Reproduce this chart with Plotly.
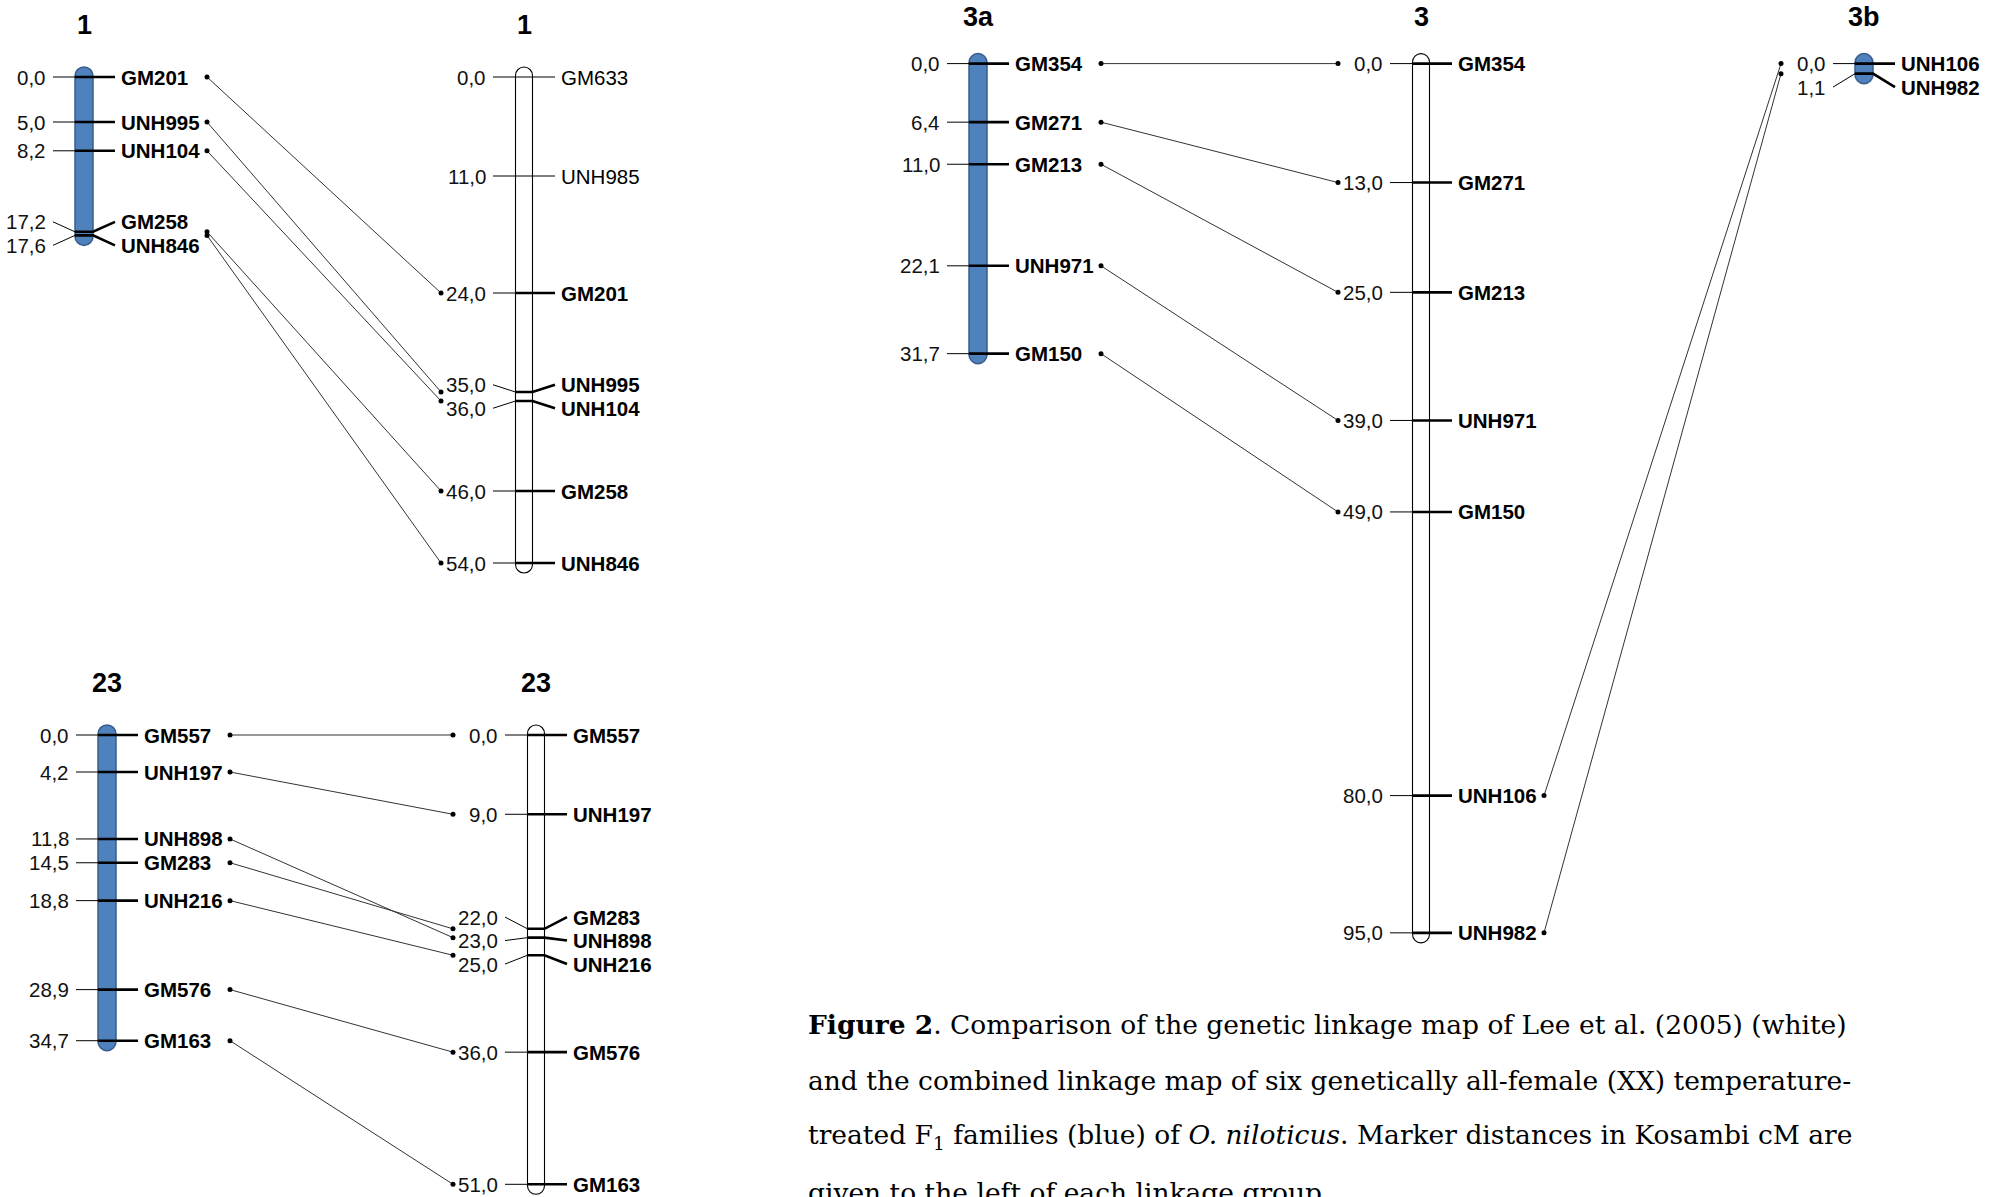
import plotly.graph_objects as go

W, H = 1995, 1197

# ---------------- data (Kosambi cM) ----------------
lg1_blue_markers = ["GM201", "UNH995", "UNH104", "GM258", "UNH846"]
lg1_blue_cm = [0.0, 5.0, 8.2, 17.2, 17.6]
lg1_white_markers = ["GM633", "UNH985", "GM201", "UNH995", "UNH104", "GM258", "UNH846"]
lg1_white_cm = [0.0, 11.0, 24.0, 35.0, 36.0, 46.0, 54.0]

lg23_blue_markers = ["GM557", "UNH197", "UNH898", "GM283", "UNH216", "GM576", "GM163"]
lg23_blue_cm = [0.0, 4.2, 11.8, 14.5, 18.8, 28.9, 34.7]
lg23_white_markers = ["GM557", "UNH197", "GM283", "UNH898", "UNH216", "GM576", "GM163"]
lg23_white_cm = [0.0, 9.0, 22.0, 23.0, 25.0, 36.0, 51.0]

lg3a_markers = ["GM354", "GM271", "GM213", "UNH971", "GM150"]
lg3a_cm = [0.0, 6.4, 11.0, 22.1, 31.7]
lg3_white_markers = ["GM354", "GM271", "GM213", "UNH971", "GM150", "UNH106", "UNH982"]
lg3_white_cm = [0.0, 13.0, 25.0, 39.0, 49.0, 80.0, 95.0]
lg3b_markers = ["UNH106", "UNH982"]
lg3b_cm = [0.0, 1.1]

caption_lines = [
    "<b>Figure 2</b>. Comparison of the genetic linkage map of Lee et al. (2005) (white)",
    "and the combined linkage map of six genetically all-female (XX) temperature-",
    "treated F<sub>1</sub> families (blue) of <i>O. niloticus</i>. Marker distances in Kosambi cM are",
    "given to the left of each linkage group.",
]

# ---------------- layout (style) ----------------
# each panel has its own cM y-axis: screen pixel of 0 cM and pixels per cM
panels = {
    "y": dict(y0=77.0, s=9.0),
    "y2": dict(y0=735.0, s=8.81),
    "y3": dict(y0=63.6, s=9.15),
}
chroms = [
    dict(title="1", names=lg1_blue_markers, cm=lg1_blue_cm, kind="blue", cx=84, ax="y"),
    dict(title="1", names=lg1_white_markers, cm=lg1_white_cm, kind="white", cx=524, ax="y"),
    dict(title="23", names=lg23_blue_markers, cm=lg23_blue_cm, kind="blue", cx=107, ax="y2"),
    dict(title="23", names=lg23_white_markers, cm=lg23_white_cm, kind="white", cx=536, ax="y2"),
    dict(title="3a", names=lg3a_markers, cm=lg3a_cm, kind="blue", cx=978, ax="y3"),
    dict(title="3", names=lg3_white_markers, cm=lg3_white_cm, kind="white", cx=1421, ax="y3"),
    dict(title="3b", names=lg3b_markers, cm=lg3b_cm, kind="blue", cx=1864, ax="y3"),
]
links = [(0, 1), (2, 3), (4, 5), (5, 6)]

BLUE_FILL, BLUE_LINE = "#4F81BD", "#385D8A"
FONT = "Liberation Sans, Arial, sans-serif"
FS = 20.5
TITLE_FS = 27
LABEL_GAP_PX = 23.5
CM_RIGHT = 36      # cM label right edge, left of centre
NAME_LEFT = 35     # marker name start, right of centre
DOT_RIGHT = 123
DOT_LEFT = 83
EXT_PX = 10


def spread(vals, gap):
    clusters = [[i] for i in range(len(vals))]
    pos = list(vals)
    changed = True
    while changed:
        changed = False
        for k in range(len(clusters) - 1):
            a, b = clusters[k], clusters[k + 1]
            if pos[b[0]] - pos[a[-1]] < gap - 1e-9:
                merged = a + b
                m = sum(vals[i] for i in merged) / len(merged)
                for j, i in enumerate(merged):
                    pos[i] = m - (len(merged) - 1) / 2 * gap + j * gap
                clusters[k:k + 2] = [merged]
                changed = True
                break
    if pos and pos[0] < vals[0]:
        pos[0] = vals[0]
    for i in range(1, len(pos)):
        pos[i] = max(pos[i], pos[i - 1] + gap)
    return pos


def capsule(cx, top, bot, r, s):
    ry = r / s
    k = 0.5523
    return (f"M {cx-r},{top+ry} C {cx-r},{top+ry-k*ry} {cx-k*r},{top} {cx},{top} "
            f"C {cx+k*r},{top} {cx+r},{top+ry-k*ry} {cx+r},{top+ry} "
            f"L {cx+r},{bot-ry} C {cx+r},{bot-ry+k*ry} {cx+k*r},{bot} {cx},{bot} "
            f"C {cx-k*r},{bot} {cx-r},{bot-ry+k*ry} {cx-r},{bot-ry} Z")


shared = [set() for _ in chroms]
for a, b in links:
    common = set(chroms[a]["names"]) & set(chroms[b]["names"])
    shared[a] |= common
    shared[b] |= common

fig = go.Figure()
shapes, annos = [], []
lines = {ax: dict(thin=([], []), thick=([], []), conn=([], []), dots=([], [])) for ax in panels}

for ci, c in enumerate(chroms):
    ax = c["ax"]
    s = panels[ax]["s"]
    y0 = panels[ax]["y0"]
    cx = c["cx"]
    w = 18 if c["kind"] == "blue" else 17
    r = w / 2
    top = min(c["cm"]) - EXT_PX / s
    bot = max(c["cm"]) + EXT_PX / s
    shapes.append(dict(
        type="path", xref="x", yref=ax, layer="below",
        path=capsule(cx, top, bot, r, s),
        fillcolor=BLUE_FILL if c["kind"] == "blue" else "white",
        line=dict(color=BLUE_LINE if c["kind"] == "blue" else "black",
                  width=1.5 if c["kind"] == "blue" else 1.1),
    ))
    title_px = max(y0 - 52, 17)
    annos.append(dict(x=cx, y=(title_px - y0) / s, xref="x", yref=ax,
                      text=f"<b>{c['title']}</b>", showarrow=False,
                      font=dict(family=FONT, size=TITLE_FS, color="black"),
                      xanchor="center", yanchor="middle"))
    lab = spread(c["cm"], LABEL_GAP_PX / s)
    for name, v, lv in zip(c["names"], c["cm"], lab):
        is_sh = name in shared[ci]
        tx, ty = lines[ax]["thin"]
        tx += [cx - CM_RIGHT + 5, cx - r, None]
        ty += [lv, v, None]
        key = "thick" if is_sh else "thin"
        kx, ky = lines[ax][key]
        kx += [cx - r, cx + r, cx + NAME_LEFT - 4, None]
        ky += [v, v, lv, None]
        annos.append(dict(x=cx - CM_RIGHT, y=lv, xref="x", yref=ax,
                          text=f"{v:.1f}".replace(".", ","), showarrow=False,
                          font=dict(family=FONT, size=FS, color="#111"),
                          xanchor="right", yanchor="middle"))
        annos.append(dict(x=cx + NAME_LEFT, y=lv, xref="x", yref=ax,
                          text=f"<b>{name}</b>" if is_sh else name, showarrow=False,
                          font=dict(family=FONT, size=FS, color="black"),
                          xanchor="left", yanchor="middle"))

for a, b in links:
    ca, cb = chroms[a], chroms[b]
    ax = ca["ax"]
    for name in ca["names"]:
        if name in cb["names"]:
            ya = ca["cm"][ca["names"].index(name)]
            yb = cb["cm"][cb["names"].index(name)]
            xa = ca["cx"] + DOT_RIGHT
            xb = cb["cx"] - DOT_LEFT
            cxs, cys = lines[ax]["conn"]
            cxs += [xa, xb, None]
            cys += [ya, yb, None]
            dx, dy = lines[ax]["dots"]
            dx += [xa, xb]
            dy += [ya, yb]

for ax, d in lines.items():
    fig.add_trace(go.Scatter(x=d["conn"][0], y=d["conn"][1], yaxis=ax, mode="lines",
                             line=dict(color="#333333", width=1), hoverinfo="skip"))
    fig.add_trace(go.Scatter(x=d["thin"][0], y=d["thin"][1], yaxis=ax, mode="lines",
                             line=dict(color="black", width=1), hoverinfo="skip"))
    fig.add_trace(go.Scatter(x=d["thick"][0], y=d["thick"][1], yaxis=ax, mode="lines",
                             line=dict(color="black", width=2.6), hoverinfo="skip"))
    fig.add_trace(go.Scatter(x=d["dots"][0], y=d["dots"][1], yaxis=ax, mode="markers",
                             marker=dict(color="black", size=5), hoverinfo="skip"))

cap_y = [1024, 1080, 1136, 1192]
for txt, yy in zip(caption_lines, cap_y):
    annos.append(dict(x=806 / W, y=1 - yy / H, xref="paper", yref="paper",
                      text=txt, showarrow=False, xanchor="left", yanchor="middle",
                      font=dict(family="DejaVu Serif, serif", size=26.5, color="black")))

layout_axes = {}
for ax, p in panels.items():
    name = "yaxis" if ax == "y" else "yaxis" + ax[1:]
    y0 = p["y0"]
    cfg = dict(range=[(H - y0) / p["s"], -y0 / p["s"]], autorange=False,
               visible=False, domain=[0, 1], anchor="x", fixedrange=True)
    if ax != "y":
        cfg["overlaying"] = "y"
    layout_axes[name] = cfg

fig.update_layout(
    width=W, height=H, margin=dict(l=0, r=0, t=0, b=0),
    paper_bgcolor="white", plot_bgcolor="white", showlegend=False,
    xaxis=dict(range=[0, W], visible=False, fixedrange=True, domain=[0, 1]),
    shapes=shapes, annotations=annos, **layout_axes,
)
fig.write_html(
    "out.html",
    config={"displayModeBar": False},
    post_script="document.body.style.margin='0px';document.body.style.overflow='hidden';",
)
